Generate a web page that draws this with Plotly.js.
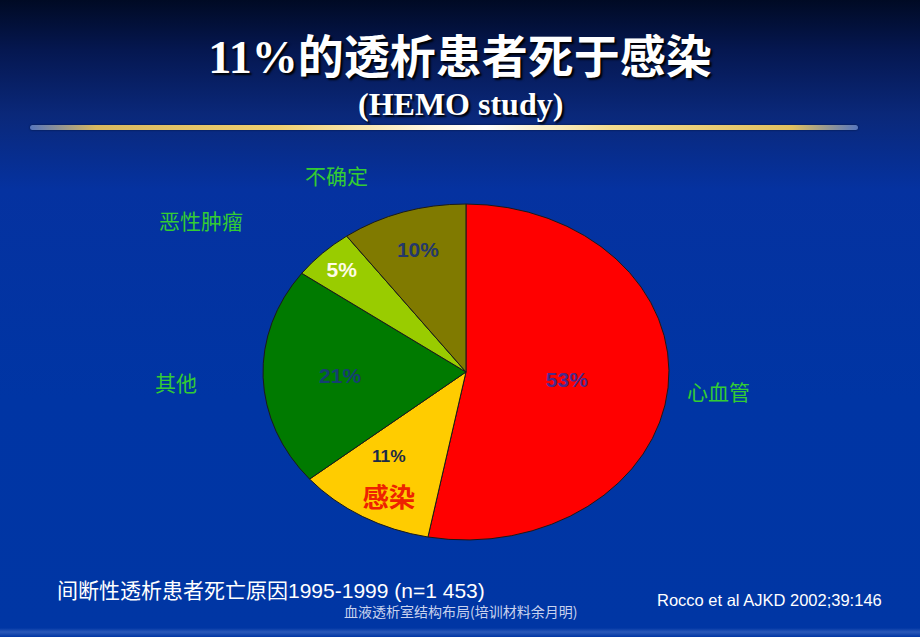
<!DOCTYPE html>
<html>
<head>
<meta charset="utf-8">
<script src="https://cdn.plot.ly/plotly-3.0.1.min.js"></script>
<style>
  html, body { margin: 0; padding: 0; }
  body {
    width: 920px; height: 637px; overflow: hidden; position: relative;
    background: linear-gradient(to bottom, #000a24 0px, #051750 50px, #0a287a 115px, #0532a0 190px, #0035a4 400px, #0036a4 628px, #2a58b8 632px, #0036a4 637px);
  }
  #rule {
    position: absolute; left: 30px; top: 125px; width: 828px; height: 5px; border-radius: 3px;
    background: linear-gradient(to right, rgba(140,170,230,0.6) 0%, #d8b860 8%, #f0d070 30%, #fff6e0 48%, #ffffff 55%, #f4dc90 70%, #e0c060 92%, rgba(140,170,230,0.6) 100%);
    box-shadow: 0 0 2px rgba(0,0,0,0.6);
  }
  #chart { position: absolute; left: 0; top: 0; width: 920px; height: 637px; }
</style>
</head>
<body>
<div id="rule"></div>
<div id="chart"></div>
<script>
// ---- data ----
const categories = ['心血管', '感染', '其他', '恶性肿瘤', '不确定'];
const values = [53, 11, 21, 5, 10];
const sliceColors = ['#ff0000', '#ffcc00', '#007a00', '#99cc00', '#807a00'];
const pctColors = ['#4a2a8c', '#1c2a48', '#153f70', '#fffbe8', '#24386a'];
const titleText = '11%的透析患者死于感染';
const subtitleText = '(HEMO study)';
const footLeft = '间断性透析患者死亡原因1995-1999 (n=1 453)';
const footRight = 'Rocco et al AJKD 2002;39:146';
const footCenter = '血液透析室结构布局(培训材料余月明)';
const highlighted = 1; // index of the category written inside its slice

const W = 920, H = 637;
const px = x => x / W;
const py = y => 1 - y / H;

const green = '#33cc33';
const cjk = "'Noto Sans CJK SC'";

const templates = categories.map((c, i) => i === highlighted
  ? '%{value}%<br> <br><span style="font-size:32px;fill:#ee2200">%{label}</span>'
  : '%{value}%');

const trace = {
  type: 'pie',
  labels: categories,
  values: values,
  sort: false,
  direction: 'clockwise',
  rotation: 0,
  marker: { colors: sliceColors, line: { color: '#1a1a1a', width: 1 } },
  texttemplate: templates,
  textposition: 'inside',
  insidetextorientation: 'horizontal',
  textfont: { family: "'Liberation Sans', Arial, 'Noto Sans CJK SC'", size: 21, color: pctColors, weight: 'bold' },
  hoverinfo: 'skip',
  showlegend: false,
  domain: { x: [0.2465, 0.7665], y: [0.1523, 0.6797] }
};

const ann = (text, x, y, opts) => Object.assign({
  text: text, x: px(x), y: py(y), xref: 'paper', yref: 'paper',
  showarrow: false, xanchor: 'center', yanchor: 'middle'
}, opts || {});

const labelFont = { family: cjk, size: 21, color: green };

const layout = {
  width: W, height: H,
  margin: { l: 0, r: 0, t: 0, b: 0 },
  paper_bgcolor: 'rgba(0,0,0,0)',
  plot_bgcolor: 'rgba(0,0,0,0)',
  showlegend: false,
  title: {
    text: titleText,
    x: 0.5, xanchor: 'center', xref: 'paper',
    y: py(57), yanchor: 'middle', yref: 'container',
    font: { family: "'Liberation Serif', 'Noto Sans CJK SC'", size: 46, color: '#ffffff', weight: 'bold', shadow: '2px 2px 2px #000000' }
  },
  annotations: [
    ann(subtitleText, 460, 104, { font: { family: "'Liberation Serif'", size: 32, color: '#ffffff', weight: 'bold', shadow: '2px 2px 2px #000000' } }),
    ann(categories[4], 336, 175, { font: labelFont }),
    ann(categories[3], 201, 220, { font: labelFont }),
    ann(categories[2], 176, 382, { font: labelFont }),
    ann(categories[0], 718, 391, { font: labelFont }),
    ann(footLeft, 55, 590, { xanchor: 'left', font: { family: "'Liberation Sans', " + cjk, size: 21, color: '#ffffff' } }),
    ann(footRight, 884, 600, { xanchor: 'right', font: { family: "'Liberation Sans'", size: 16.5, color: '#ffffff' } }),
    ann(footCenter, 460, 611, { font: { family: cjk, size: 14, color: '#c8d2ee' } })
  ]
};

const SX = 203 / 168, SY = 1;

Plotly.newPlot('chart', [trace], layout, { staticPlot: true, displayModeBar: false }).then(gd => {
  const svg = gd.querySelector('svg.main-svg');
  const so = svg.getBoundingClientRect();
  const gs = gd._fullLayout._size;
  const d = gd._fullData[0].domain;
  const cx = gs.l + gs.w * (d.x[0] + d.x[1]) / 2;
  const cy = gs.t + gs.h * (1 - (d.y[0] + d.y[1]) / 2);
  const tg = gd.querySelector('.pielayer g.trace');
  if (!tg) return;
  tg.querySelectorAll('g.slicetext').forEach(st => {
    const b = st.getBoundingClientRect();
    const tx = b.left + b.width / 2 - so.left;
    const ty = b.top + b.height / 2 - so.top;
    st.setAttribute('transform', `translate(${tx},${ty}) scale(${1 / SX},${1 / SY}) translate(${-tx},${-ty})`);
  });
  tg.querySelectorAll('path.surface').forEach(p => p.setAttribute('vector-effect', 'non-scaling-stroke'));
  tg.setAttribute('transform', `translate(${cx},${cy}) scale(${SX},${SY}) translate(${-cx},${-cy})`);
});
</script>
</body>
</html>
